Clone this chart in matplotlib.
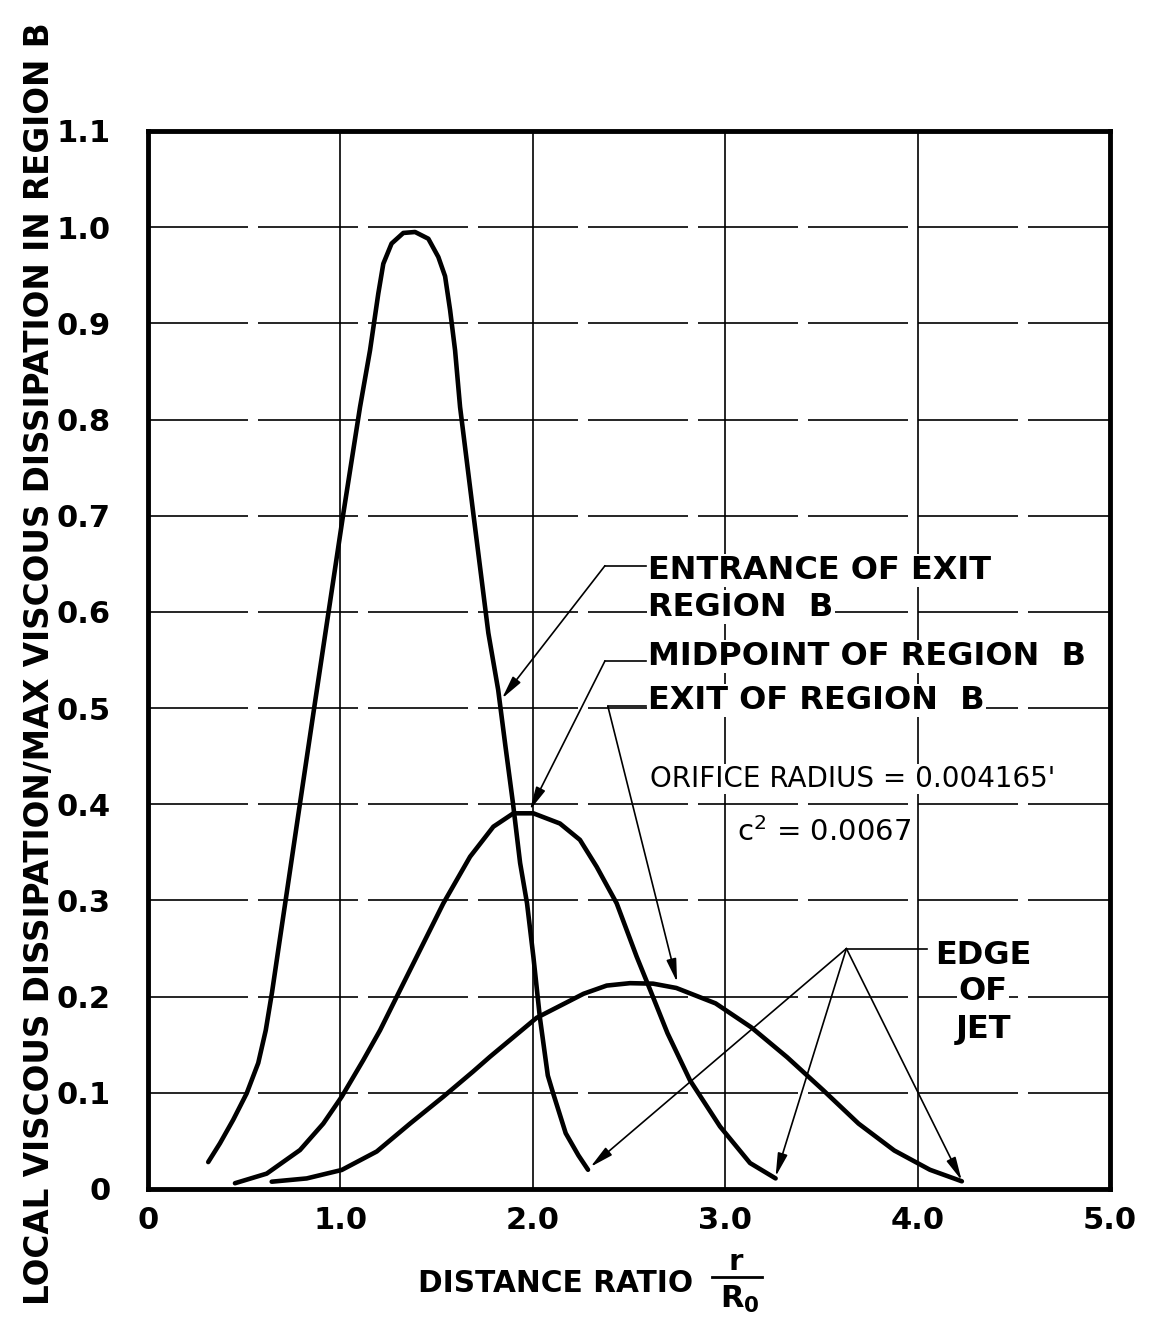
import numpy as np
import matplotlib
matplotlib.use("Agg")
import matplotlib.pyplot as plt
from matplotlib.lines import Line2D

# -----------------------------
# Dados
# -----------------------------
# entrada da região de saída (curva alta)
entr_x = [0.313, 0.374, 0.443, 0.513, 0.573, 0.612, 0.645, 0.677, 0.713, 0.79,
          0.871, 1.015, 1.102, 1.154, 1.197, 1.223, 1.266, 1.327, 1.388, 1.457,
          1.509, 1.544, 1.570, 1.596, 1.622, 1.691, 1.769, 1.82, 1.858, 1.897,
          1.934, 1.97, 2.003, 2.037, 2.078, 2.105, 2.171, 2.237, 2.287]
entr_y = [0.028, 0.0475, 0.072, 0.0995, 0.131, 0.165, 0.205, 0.2485, 0.297, 0.401,
          0.510, 0.702, 0.813, 0.872, 0.931, 0.962, 0.983, 0.994, 0.995, 0.988,
          0.969, 0.949, 0.914, 0.872, 0.813, 0.702, 0.578, 0.519, 0.460, 0.401,
          0.339, 0.297, 0.2415, 0.178, 0.118, 0.100, 0.058, 0.035, 0.020]

# ponto médio da região B
mid_x = [0.452, 0.617, 0.79, 0.911, 1.007, 1.119, 1.206, 1.293, 1.414, 1.535,
         1.674, 1.795, 1.899, 2.003, 2.141, 2.245, 2.332, 2.436, 2.54, 2.61,
         2.70, 2.817, 2.973, 3.129, 3.262]
mid_y = [0.006, 0.016, 0.0405, 0.068, 0.096, 0.134, 0.165, 0.200, 0.2485, 0.297,
         0.3455, 0.3767, 0.3906, 0.3906, 0.380, 0.363, 0.335, 0.297, 0.2415, 0.207,
         0.162, 0.113, 0.065, 0.027, 0.011]

# saída da região B
exit_x = [0.643, 0.825, 1.007, 1.189, 1.362, 1.535, 1.689, 1.778, 2.02, 2.264,
          2.384, 2.505, 2.625, 2.746, 2.95, 3.136, 3.322, 3.508, 3.693, 3.879,
          4.064, 4.23]
exit_y = [0.0076, 0.011, 0.0198, 0.039, 0.068, 0.096, 0.122, 0.1376, 0.178, 0.203,
          0.2115, 0.214, 0.2135, 0.209, 0.193, 0.168, 0.137, 0.103, 0.068, 0.040,
          0.020, 0.008]

x_ticks = [0, 1, 2, 3, 4, 5]
x_tick_labels = ["0", "1.0", "2.0", "3.0", "4.0", "5.0"]
y_ticks = [0, 0.1, 0.2, 0.3, 0.4, 0.5, 0.6, 0.7, 0.8, 0.9, 1.0, 1.1]
y_tick_labels = ["0", "0.1", "0.2", "0.3", "0.4", "0.5", "0.6", "0.7",
                 "0.8", "0.9", "1.0", "1.1"]

# -----------------------------
# Figura
# -----------------------------
plt.rcParams["font.family"] = "DejaVu Sans"
plt.rcParams["mathtext.fontset"] = "dejavusans"

W, H = 1151, 1328
fig = plt.figure(figsize=(W / 100, H / 100), dpi=100)
ax = fig.add_axes([148 / W, 139 / H, 962 / W, 1058 / H])

ax.set_xlim(0, 5)
ax.set_ylim(0, 1.1)

# grade: verticais contínuas, horizontais tracejadas longas
for xv in x_ticks[1:-1]:
    ax.axvline(xv, color="k", lw=1.2, zorder=1)
for yv in y_ticks[1:-1]:
    ax.axhline(yv, color="k", lw=1.2, ls=(0, (60, 6)), zorder=1)

for xs, ys in [(entr_x, entr_y), (mid_x, mid_y), (exit_x, exit_y)]:
    ax.plot(xs, ys, color="k", lw=3.3, solid_capstyle="round",
            solid_joinstyle="round", zorder=3)

for sp in ax.spines.values():
    sp.set_linewidth(3.5)

ax.set_xticks(x_ticks)
ax.set_xticklabels(x_tick_labels)
ax.set_yticks(y_ticks)
ax.set_yticklabels(y_tick_labels)
ax.tick_params(axis="both", length=0, labelsize=22)
ax.tick_params(axis="y", pad=27)
ax.tick_params(axis="x", pad=12)
for lab in ax.get_xticklabels() + ax.get_yticklabels():
    lab.set_fontweight("bold")

# -----------------------------
# Anotações
# -----------------------------
box = dict(facecolor="white", edgecolor="none", pad=1)
arrow = dict(arrowstyle="-|>,head_length=1.4,head_width=0.3", color="k",
             lw=1.2, shrinkA=0, shrinkB=0)
txt = dict(fontsize=23, fontweight="bold", va="baseline", zorder=5)


def leader(elbow, x_end, tips):
    ax.plot([elbow[0], x_end], [elbow[1], elbow[1]], color="k", lw=1.2, zorder=4)
    for tip in tips:
        ax.annotate("", xy=tip, xytext=elbow, arrowprops=arrow, zorder=4)


leader((2.375, 0.648), 2.59, [(1.84, 0.51)])
ax.text(2.60, 0.634, "ENTRANCE OF EXIT", bbox=box, **txt)
ax.text(2.60, 0.596, "REGION  B", bbox=box, **txt)

leader((2.375, 0.549), 2.59, [(1.985, 0.394)])
ax.text(2.60, 0.545, "MIDPOINT OF REGION  B", bbox=box, **txt)

leader((2.39, 0.502), 2.59, [(2.75, 0.215)])
ax.text(2.60, 0.499, "EXIT OF REGION  B", bbox=box, **txt)

ax.text(2.61, 0.418, "ORIFICE RADIUS = 0.004165'", fontsize=20,
        va="baseline", bbox=box, zorder=5)
ax.text(3.06, 0.362, r"c$^2$ = 0.0067", fontsize=21,
        va="baseline", bbox=box, zorder=5)

leader((3.63, 0.250), 4.05, [(2.30, 0.023), (3.262, 0.013), (4.229, 0.009)])
ax.text(4.34, 0.234, "EDGE", ha="center", bbox=box, **txt)
ax.text(4.34, 0.196, "OF", ha="center", bbox=box, **txt)
ax.text(4.34, 0.157, "JET", ha="center", bbox=box, **txt)

# rótulo do eixo x com fração r / R0
fig.text(418 / W, (H - 1292) / H, "DISTANCE RATIO",
         fontsize=21.3, fontweight="bold", ha="left", va="baseline")
fig.text(736 / W, (H - 1270) / H, "r",
         fontsize=21, fontweight="bold", ha="center", va="baseline")
fig.add_artist(Line2D([712 / W, 762 / W], [(H - 1277) / H] * 2,
                      color="k", lw=2.0))
fig.text(740 / W, (H - 1308) / H, r"$\mathbf{R_0}$",
         fontsize=22, ha="center", va="baseline")

fig.text(40 / W, 0.5,
         "LOCAL VISCOUS DISSIPATION/MAX VISCOUS DISSIPATION IN REGION B",
         fontsize=23.5, fontweight="bold", rotation=90, ha="center", va="center")

fig.savefig("out.png", dpi=100)
